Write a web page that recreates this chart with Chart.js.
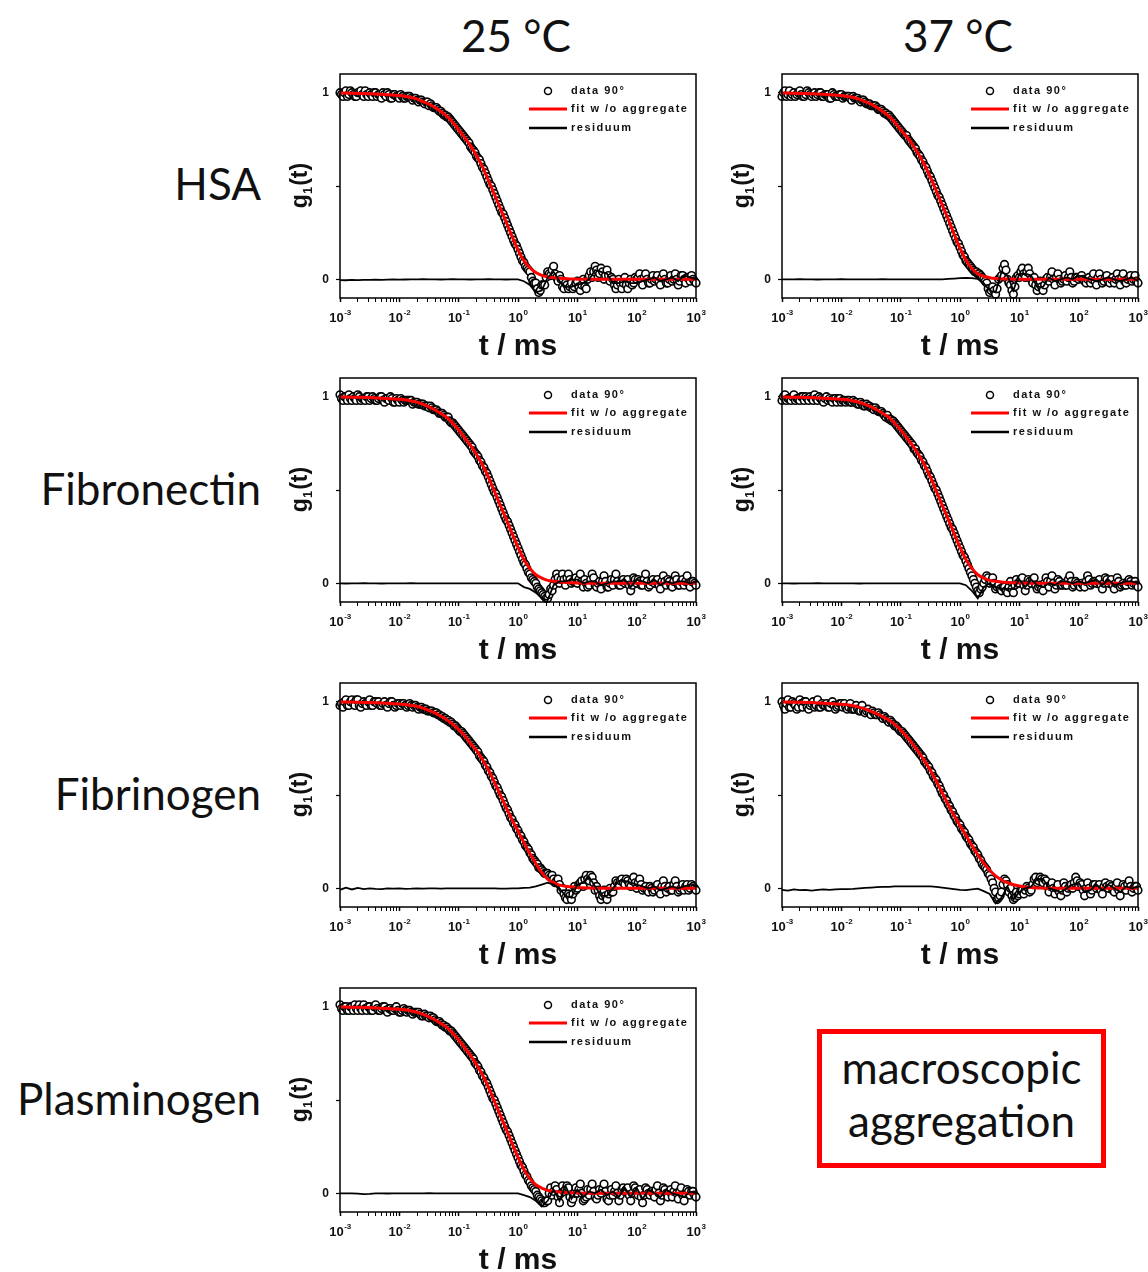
<!DOCTYPE html>
<html>
<head>
<meta charset="utf-8">
<title>g1(t) correlation functions</title>
<script src="https://cdn.jsdelivr.net/npm/chart.js@4/dist/chart.umd.min.js"></script>
<style>
  body { margin: 0; width: 1148px; height: 1272px; position: relative; overflow: hidden; background: #fff; }
  canvas { position: absolute; }
  .head, .row, .note { position: absolute; font-family: Lato, "Open Sans", sans-serif; font-size: 44px; line-height: 44px; color: #111; }
  .head { top: 13px; width: 200px; text-align: center; }
  .row { left: 0; width: 261px; text-align: right; }
  .note { left: 817px; top: 1029px; width: 289px; height: 139px; box-sizing: border-box;
          border: 5px solid #ff0000; text-align: center; line-height: 53px; padding-top: 7px; }
</style>
</head>
<body>

<div class="head" style="left:416px">25 °C</div>
<div class="head" style="left:858px">37 °C</div>

<div class="row" style="top:161px">HSA</div>
<div class="row" style="top:466px">Fibronectin</div>
<div class="row" style="top:771px">Fibrinogen</div>
<div class="row" style="top:1076px">Plasminogen</div>

<canvas id="hsa25" width="436" height="303" style="left:270px;top:64px"></canvas>
<canvas id="hsa37" width="436" height="303" style="left:712px;top:64px"></canvas>
<canvas id="fn25" width="436" height="303" style="left:270px;top:368px"></canvas>
<canvas id="fn37" width="436" height="303" style="left:712px;top:368px"></canvas>
<canvas id="fbg25" width="436" height="303" style="left:270px;top:673px"></canvas>
<canvas id="fbg37" width="436" height="303" style="left:712px;top:673px"></canvas>
<canvas id="plg25" width="436" height="303" style="left:270px;top:978px"></canvas>

<div class="note">macroscopic<br>aggregation</div>

<script>
// lag times of the correlator channels (ms)
const lagTimes = [
  0.001, 0.001122, 0.001259, 0.001413, 0.001585, 0.001778, 0.001995, 0.002239, 0.002512, 0.002818,
  0.003162, 0.003548, 0.003981, 0.004467, 0.005012, 0.005623, 0.00631, 0.007079, 0.007943, 0.008913,
  0.01, 0.01122, 0.01259, 0.01413, 0.01585, 0.01778, 0.01995, 0.02239, 0.02512, 0.02818,
  0.03162, 0.03548, 0.03981, 0.04467, 0.05012, 0.05623, 0.0631, 0.07079, 0.07943, 0.08913,
  0.1, 0.1122, 0.1259, 0.1413, 0.1585, 0.1778, 0.1995, 0.2239, 0.2512, 0.2818,
  0.3162, 0.3548, 0.3981, 0.4467, 0.5012, 0.5623, 0.631, 0.7079, 0.7943, 0.8913,
  1, 1.122, 1.259, 1.413, 1.585, 1.778, 1.995, 2.239, 2.512, 2.818,
  3.162, 3.548, 3.981, 4.467, 5.012, 5.623, 6.31, 7.079, 7.943, 8.913,
  10, 11.22, 12.59, 14.13, 15.85, 17.78, 19.95, 22.39, 25.12, 28.18,
  31.62, 35.48, 39.81, 44.67, 50.12, 56.23, 63.1, 70.79, 79.43, 89.13,
  100, 112.2, 125.9, 141.3, 158.5, 177.8, 199.5, 223.9, 251.2, 281.8,
  316.2, 354.8, 398.1, 446.7, 501.2, 562.3, 631, 707.9, 794.3, 891.3,
  1000
];

// second set of channels, placed between the ones above (ms)
const midTimes = [
  0.001059, 0.001189, 0.001334, 0.001496, 0.001679, 0.001884, 0.002113, 0.002371, 0.002661, 0.002985,
  0.00335, 0.003758, 0.004217, 0.004732, 0.005309, 0.005957, 0.006683, 0.007499, 0.008414, 0.009441,
  0.01059, 0.01189, 0.01334, 0.01496, 0.01679, 0.01884, 0.02113, 0.02371, 0.02661, 0.02985,
  0.0335, 0.03758, 0.04217, 0.04732, 0.05309, 0.05957, 0.06683, 0.07499, 0.08414, 0.09441,
  0.1059, 0.1189, 0.1334, 0.1496, 0.1679, 0.1884, 0.2113, 0.2371, 0.2661, 0.2985,
  0.335, 0.3758, 0.4217, 0.4732, 0.5309, 0.5957, 0.6683, 0.7499, 0.8414, 0.9441,
  1.059, 1.189, 1.334, 1.496, 1.679, 1.884, 2.113, 2.371, 2.661, 2.985,
  3.35, 3.758, 4.217, 4.732, 5.309, 5.957, 6.683, 7.499, 8.414, 9.441,
  10.59, 11.89, 13.34, 14.96, 16.79, 18.84, 21.13, 23.71, 26.61, 29.85,
  33.5, 37.58, 42.17, 47.32, 53.09, 59.57, 66.83, 74.99, 84.14, 94.41,
  105.9, 118.9, 133.4, 149.6, 167.9, 188.4, 211.3, 237.1, 266.1, 298.5,
  335, 375.8, 421.7, 473.2, 530.9, 595.7, 668.3, 749.9, 841.4, 944.1
];

// times at which fit and residual are given (ms)
const fitTimes = [
  0.001, 0.001259, 0.001585, 0.001995, 0.002512, 0.003162, 0.003981, 0.005012, 0.00631, 0.007943,
  0.01, 0.01259, 0.01585, 0.01995, 0.02512, 0.03162, 0.03981, 0.05012, 0.0631, 0.07943,
  0.1, 0.1259, 0.1585, 0.1995, 0.2512, 0.3162, 0.3981, 0.5012, 0.631, 0.7943,
  1, 1.259, 1.585, 1.995, 2.512, 3.162, 3.981, 5.012, 6.31, 7.943,
  10, 12.59, 15.85, 19.95, 25.12, 31.62, 39.81, 50.12, 63.1, 79.43,
  100, 125.9, 158.5, 199.5, 251.2, 316.2, 398.1, 501.2, 631, 794.3,
  1000
];

const decades = [-3, -2, -1, 0, 1, 2, 3];
const yTicks = [0, 0.5, 1];
const seriesLabels = ['data 90°', 'fit w /o aggregate', 'residuum'];

// ---- HSA 25 °C
const hsa25Data = [
  1.00, 0.98, 1.01, 0.99, 1.00, 0.98, 1.00, 1.01, 0.98, 0.99, 1.00, 0.98, 1.00, 0.99, 0.97, 0.99, 1.00, 0.97, 0.99, 0.98, 0.97,
  0.98, 0.97, 0.98, 0.97, 0.97, 0.96, 0.96, 0.95, 0.95, 0.93, 0.93, 0.92, 0.91, 0.90, 0.88, 0.87, 0.86, 0.84, 0.82, 0.80,
  0.78, 0.76, 0.74, 0.71, 0.69, 0.66, 0.64, 0.60, 0.57, 0.53, 0.50, 0.46, 0.42, 0.38, 0.35, 0.31, 0.27, 0.23, 0.19, 0.16,
  0.12, 0.09, 0.06, 0.04, -0.01, -0.02, -0.07, -0.03, -0.03, 0.04, 0.02, 0.07, 0.01, 0.02, -0.04, -0.02, -0.05, -0.02, -0.04, -0.01,
  -0.06, 0.00, -0.05, 0.02, 0.01, 0.07, 0.01, 0.06, 0.00, 0.05, -0.01, 0.00, -0.05, 0.00, -0.05, 0.01, -0.05, 0.00, -0.02, 0.00,
  0.03, -0.03, 0.03, -0.02, 0.00, -0.01, 0.02, -0.03, 0.03, -0.02, 0.00, -0.01, 0.03, -0.03, 0.02, 0.00, 0.01, -0.01, 0.00, -0.02
];
const hsa25Mid = [
  0.99, 1.00, 0.98, 1.01, 0.99, 0.98, 1.00, 0.99, 1.01, 0.98, 0.99, 1.00, 0.98, 0.99, 1.00, 0.98, 0.99, 0.97, 0.99, 0.98,
  0.99, 0.97, 0.98, 0.98, 0.96, 0.97, 0.95, 0.96, 0.94, 0.95,
  0.94, 0.92, 0.92, 0.90, 0.89, 0.88, 0.87, 0.85, 0.83, 0.81,
  0.79, 0.77, 0.75, 0.73, 0.70, 0.68, 0.65, 0.62, 0.59, 0.55,
  0.51, 0.48, 0.44, 0.40, 0.36, 0.33, 0.29, 0.25, 0.21, 0.18,
  0.14, 0.10, 0.07, 0.05, 0.01, -0.02, -0.05, -0.06, -0.03, 0.01, 0.03,
  0.05, 0.03, -0.01, 0.00, -0.05, -0.03, -0.04, -0.05, -0.02, -0.04,
  -0.03, -0.04, 0.00, 0.04, 0.04, 0.05, 0.03, 0.04, 0.02, 0.02,
  0.01, -0.03, -0.03, -0.02, -0.02, -0.03, -0.02, -0.03, 0.01, 0.01,
  0.00, 0.01, 0.00, -0.02, 0.02, 0.00, -0.01, 0.01, 0.00, -0.02,
  0.02, 0.00, 0.00, -0.01, 0.02, -0.02, 0.01, 0.02, -0.01
];
const hsa25Fit = [
  0.998, 0.998, 0.997, 0.996, 0.995, 0.994, 0.993, 0.991, 0.989, 0.987,
  0.985, 0.980, 0.974, 0.965, 0.952, 0.939, 0.920, 0.899, 0.874, 0.841,
  0.801, 0.760, 0.715, 0.663, 0.604, 0.532, 0.457, 0.382, 0.307, 0.230,
  0.158, 0.100, 0.062, 0.036, 0.021, 0.013, 0.009, 0.006, 0.004, 0.002,
  0.001, 0, 0, 0, 0, 0, 0, 0, 0, 0,
  0, 0, 0, 0, 0, 0, 0, 0, 0, 0,
  0
];
const hsa25Res = [
  -0.004, -0.005, -0.003, -0.004, -0.003, -0.003, -0.002, -0.003, -0.002, -0.001,
  -0.002, -0.001, 0, 0, 0.001, 0, 0, -0.001, 0, 0.001,
  0, 0, -0.001, 0, 0, 0.001, 0, 0, -0.001, 0,
  0, -0.01, -0.03, -0.07, -0.06, 0.01, 0.04, -0.01, -0.04, -0.04,
  -0.03, -0.02, 0.00, 0.05, 0.04, 0.03, -0.02, -0.02, -0.01, -0.02,
  -0.02, -0.01, 0.00, 0.01, -0.01, 0.00, 0.01, -0.01, 0.02, 0.01,
  0.00
];

// ---- HSA 37 °C
const hsa37Data = [
  0.98, 1.01, 0.99, 0.98, 1.00, 0.99, 1.01, 0.98, 0.99, 1.00, 0.98, 1.00, 0.99, 1.00, 0.98, 0.99, 0.97, 1.00, 0.98, 0.98, 0.99,
  0.98, 0.98, 0.97, 0.98, 0.97, 0.96, 0.96, 0.95, 0.94, 0.93, 0.93, 0.92, 0.91, 0.90, 0.89, 0.88, 0.86, 0.84, 0.82, 0.80,
  0.78, 0.77, 0.74, 0.72, 0.70, 0.67, 0.64, 0.61, 0.58, 0.55, 0.51, 0.47, 0.44, 0.40, 0.36, 0.32, 0.28, 0.24, 0.20, 0.17,
  0.13, 0.10, 0.08, 0.06, 0.04, 0.03, 0.02, 0.00, -0.02, -0.07, -0.04, -0.08, 0.00, 0.02, 0.08, 0.00, -0.03, -0.08, 0.01, 0.01,
  0.06, 0.01, 0.06, 0.00, 0.01, -0.06, -0.01, -0.06, 0.00, -0.01, 0.04, -0.03, 0.03, -0.02, 0.00, -0.01, 0.04, -0.02, 0.01, 0.00,
  0.02, -0.01, 0.00, -0.02, 0.03, -0.03, 0.03, -0.02, 0.01, -0.01, 0.00, -0.02, 0.03, -0.03, 0.03, -0.02, 0.01, -0.01, 0.02, -0.02
];
const hsa37Mid = [
  1.00, 0.98, 1.01, 0.99, 0.98, 1.00, 0.99, 0.98, 1.01, 0.99, 0.99, 0.98, 1.00, 0.98, 0.99, 0.99, 0.97, 0.99, 0.98, 0.99,
  0.97, 0.98, 0.98, 0.96, 0.97, 0.97, 0.95, 0.96, 0.94, 0.94,
  0.93, 0.93, 0.91, 0.91, 0.89, 0.88, 0.87, 0.85, 0.83, 0.81,
  0.79, 0.77, 0.75, 0.73, 0.71, 0.68, 0.66, 0.63, 0.60, 0.56,
  0.53, 0.49, 0.45, 0.42, 0.38, 0.34, 0.30, 0.26, 0.22, 0.19,
  0.15, 0.12, 0.09, 0.07, 0.05, 0.04, 0.03, 0.01, -0.01, -0.05, -0.06,
  -0.06, -0.05, 0.01, 0.06, 0.05, -0.02, -0.06, -0.04, 0.02, 0.04,
  0.03, 0.04, 0.03, -0.02, -0.03, -0.04, -0.04, -0.03, 0.01, 0.01,
  0.00, 0.01, 0.00, -0.01, 0.02, 0.01, 0.01, -0.01, 0.01, 0.01,
  0.00, -0.02, 0.01, 0.00, -0.01, 0.01, 0.00, -0.01, 0.02, -0.02,
  0.01, 0.00, 0.00, 0.01, -0.01, 0.00, 0.02, 0.00, -0.01
];
const hsa37Fit = [
  0.998, 0.998, 0.997, 0.996, 0.995, 0.994, 0.993, 0.991, 0.989, 0.987,
  0.985, 0.980, 0.974, 0.965, 0.952, 0.939, 0.920, 0.899, 0.874, 0.841,
  0.801, 0.765, 0.722, 0.672, 0.615, 0.547, 0.474, 0.399, 0.323, 0.243,
  0.167, 0.103, 0.058, 0.030, 0.016, 0.009, 0.005, 0.003, 0.002, 0.001,
  0.001, 0, 0, 0, 0, 0, 0, 0, 0, 0,
  0, 0, 0, 0, 0, 0, 0, 0, 0, 0,
  0
];
const hsa37Res = [
  0, 0, 0, 0.001, 0, 0, -0.001, 0, 0, 0,
  0.001, 0, 0, 0, 0, 0, 0, 0.001, 0, 0,
  0, 0, 0, 0, 0, 0, 0, 0, 0.002, 0.004,
  0.006, 0.008, 0.006, 0.002, -0.02, -0.06, -0.07, 0.04, 0.02, -0.06,
  0.03, 0.03, 0.02, -0.04, -0.04, 0.01, -0.01, 0.00, 0.01, 0.00,
  0.02, 0.01, 0.00, -0.01, 0.00, 0.01, 0.00, -0.01, 0.00, 0.01,
  -0.01
];

// ---- Fibronectin 25 °C
const fn25Data = [
  1.01, 0.98, 1.00, 1.01, 0.98, 0.99, 1.01, 0.98, 0.99, 1.00, 0.98, 1.00, 0.98, 0.99, 1.00, 0.97, 0.99, 1.00, 0.97, 0.99, 0.97,
  0.98, 0.98, 0.98, 0.98, 0.97, 0.97, 0.96, 0.96, 0.95, 0.94, 0.94, 0.93, 0.92, 0.91, 0.90, 0.89, 0.87, 0.86, 0.84, 0.82,
  0.80, 0.78, 0.76, 0.74, 0.71, 0.69, 0.66, 0.63, 0.60, 0.57, 0.53, 0.49, 0.46, 0.42, 0.38, 0.34, 0.31, 0.27, 0.23, 0.19,
  0.15, 0.11, 0.08, 0.05, 0.02, 0.00, -0.03, -0.05, -0.07, -0.08, -0.03, -0.01, 0.05, 0.00, 0.05, -0.01, 0.05, 0.00, 0.01, 0.00,
  0.05, -0.02, 0.00, -0.01, 0.05, -0.01, 0.00, -0.03, 0.04, -0.02, 0.00, -0.01, 0.05, -0.01, 0.01, 0.00, 0.02, -0.04, 0.03, 0.00,
  0.01, -0.01, 0.05, -0.02, 0.01, 0.00, 0.02, -0.03, 0.04, -0.01, 0.01, -0.02, 0.04, -0.01, 0.01, -0.01, 0.04, -0.02, 0.01, -0.01
];
const fn25Mid = [
  0.99, 1.00, 0.98, 0.99, 1.00, 0.98, 1.00, 0.99, 0.98, 1.00, 0.99, 0.99, 0.98, 1.00, 0.98, 0.99, 0.98, 0.99, 0.97, 0.98,
  0.99, 0.97, 0.98, 0.98, 0.96, 0.97, 0.96, 0.96, 0.95, 0.95,
  0.95, 0.93, 0.93, 0.91, 0.91, 0.89, 0.89, 0.86, 0.85, 0.83,
  0.81, 0.79, 0.77, 0.75, 0.73, 0.70, 0.68, 0.65, 0.62, 0.59,
  0.55, 0.51, 0.48, 0.44, 0.40, 0.36, 0.33, 0.29, 0.25, 0.21,
  0.17, 0.13, 0.10, 0.06, 0.03, 0.01, -0.02, -0.04, -0.06, -0.08, -0.06,
  -0.04, 0.02, 0.03, 0.02, 0.02, 0.03, 0.02, 0.01, 0.03, 0.02,
  0.01, 0.02, -0.02, 0.02, 0.03, -0.02, 0.01, 0.01, 0.01, -0.02,
  0.02, 0.02, 0.01, -0.01, 0.02, 0.01, -0.01, -0.01, 0.02, 0.02,
  -0.01, 0.02, 0.01, -0.01, 0.02, 0.01, -0.01, 0.01, 0.01, 0.02,
  -0.01, 0.01, 0.02, -0.01, 0.02, 0.01, 0.00, 0.01, 0.00
];
const fn25Fit = [
  0.998, 0.998, 0.997, 0.997, 0.996, 0.995, 0.993, 0.992, 0.990, 0.988,
  0.986, 0.983, 0.977, 0.970, 0.959, 0.945, 0.930, 0.910, 0.889, 0.858,
  0.822, 0.780, 0.739, 0.690, 0.635, 0.570, 0.495, 0.419, 0.345, 0.268,
  0.193, 0.127, 0.080, 0.046, 0.028, 0.016, 0.011, 0.007, 0.005, 0.003,
  0.002, 0.001, 0, 0, 0, 0, 0, 0, 0, 0,
  0, 0, 0, 0, 0, 0, 0, 0, 0, 0,
  0
];
const fn25Res = [
  0, -0.001, 0, 0, 0.001, 0, 0, -0.001, 0, 0,
  0, 0, 0.001, 0, 0, 0, 0, 0, 0, 0,
  0, 0, 0, 0, 0, 0, 0, 0, 0, 0,
  0, -0.02, -0.03, -0.05, -0.08, -0.09, -0.01, 0.01, 0.01, 0.02,
  0.02, 0.00, 0.01, 0.01, -0.01, 0.00, 0.01, 0.01, 0.02, -0.02,
  0.02, 0.01, 0.00, 0.02, -0.01, 0.01, 0.00, 0.01, 0.01, 0.00,
  0.01
];

// ---- Fibronectin 37 °C
const fn37Data = [
  0.98, 1.01, 0.99, 0.98, 1.01, 0.99, 0.98, 1.00, 1.00, 0.98, 0.99, 1.01, 0.98, 0.99, 0.97, 1.00, 0.99, 0.97, 0.99, 0.99, 0.97,
  0.98, 0.98, 0.97, 0.98, 0.97, 0.96, 0.96, 0.95, 0.95, 0.94, 0.93, 0.93, 0.92, 0.91, 0.89, 0.88, 0.87, 0.86, 0.84, 0.82,
  0.80, 0.78, 0.76, 0.74, 0.72, 0.69, 0.66, 0.63, 0.60, 0.57, 0.53, 0.50, 0.46, 0.42, 0.38, 0.34, 0.30, 0.27, 0.23, 0.19,
  0.15, 0.12, 0.08, 0.04, 0.00, -0.04, -0.03, 0.00, 0.04, 0.00, 0.03, -0.03, -0.01, -0.04, -0.02, -0.05, 0.01, -0.05, 0.02, 0.00,
  0.03, -0.04, 0.02, 0.00, 0.03, -0.03, -0.01, -0.04, 0.03, -0.02, 0.04, -0.03, 0.02, -0.01, 0.00, -0.01, 0.04, -0.02, 0.01, -0.01,
  0.00, -0.02, 0.04, -0.01, 0.01, 0.00, 0.02, -0.03, 0.03, 0.00, 0.02, -0.03, 0.03, -0.02, 0.00, -0.01, 0.02, -0.01, 0.01, -0.02
];
const fn37Mid = [
  1.00, 0.98, 0.99, 1.00, 0.98, 0.99, 1.00, 0.98, 0.99, 1.00, 0.98, 0.99, 1.00, 0.98, 0.99, 0.98, 0.98, 0.99, 0.97, 0.99,
  0.98, 0.97, 0.98, 0.97, 0.97, 0.96, 0.97, 0.95, 0.96, 0.95,
  0.94, 0.94, 0.92, 0.92, 0.90, 0.90, 0.88, 0.87, 0.85, 0.83,
  0.81, 0.79, 0.77, 0.75, 0.72, 0.70, 0.68, 0.65, 0.62, 0.58,
  0.55, 0.51, 0.48, 0.44, 0.40, 0.36, 0.32, 0.29, 0.25, 0.21,
  0.17, 0.14, 0.10, 0.06, 0.02, -0.02, -0.05, -0.02, 0.02, 0.03, 0.01,
  0.00, -0.02, -0.03, -0.02, -0.04, -0.02, -0.03, -0.01, 0.00, 0.02,
  -0.01, -0.01, 0.01, 0.02, -0.01, -0.02, -0.03, 0.00, 0.01, 0.01,
  0.00, -0.01, 0.01, -0.01, -0.01, 0.02, 0.01, -0.01, 0.00, -0.02,
  -0.01, 0.01, 0.02, 0.00, 0.01, 0.01, -0.01, 0.00, 0.02, 0.01,
  -0.01, 0.00, 0.01, -0.01, -0.01, 0.01, 0.01, 0.00, -0.01
];
const fn37Fit = [
  0.998, 0.998, 0.997, 0.997, 0.996, 0.995, 0.993, 0.992, 0.990, 0.988,
  0.986, 0.983, 0.977, 0.970, 0.959, 0.945, 0.930, 0.910, 0.889, 0.858,
  0.822, 0.780, 0.739, 0.690, 0.635, 0.570, 0.495, 0.419, 0.345, 0.268,
  0.193, 0.127, 0.080, 0.046, 0.028, 0.016, 0.011, 0.007, 0.005, 0.003,
  0.002, 0.001, 0, 0, 0, 0, 0, 0, 0, 0,
  0, 0, 0, 0, 0, 0, 0, 0, 0, 0,
  0
];
const fn37Res = [
  0, 0, -0.001, 0, 0, 0, 0.001, 0, 0, 0,
  0, 0, 0, -0.001, 0, 0, 0, 0, 0, 0,
  0, 0, 0, 0, 0, 0, 0, 0, 0, 0,
  0, -0.01, -0.04, -0.08, -0.02, 0.00, -0.02, -0.03, -0.03, -0.03,
  0.02, -0.02, 0.02, -0.01, -0.02, 0.00, -0.01, 0.01, 0.01, 0.00,
  0.01, 0.00, 0.01, 0.02, -0.01, 0.02, -0.01, 0.00, 0.01, 0.01,
  0.00
];

// ---- Fibrinogen 25 °C
const fbg25Data = [
  0.98, 0.97, 1.01, 0.98, 1.01, 0.98, 1.01, 0.97, 1.00, 0.98, 1.01, 0.98, 1.00, 1.00, 0.98, 1.00, 0.97, 1.00, 0.98, 0.98, 0.99,
  0.99, 0.98, 0.98, 0.98, 0.98, 0.97, 0.97, 0.96, 0.96, 0.95, 0.95, 0.94, 0.93, 0.92, 0.91, 0.90, 0.89, 0.88, 0.87, 0.85,
  0.84, 0.82, 0.80, 0.78, 0.76, 0.74, 0.71, 0.69, 0.66, 0.63, 0.60, 0.57, 0.54, 0.50, 0.47, 0.43, 0.40, 0.37, 0.34, 0.31,
  0.28, 0.25, 0.22, 0.19, 0.16, 0.14, 0.11, 0.10, 0.08, 0.08, 0.06, 0.05, 0.04, 0.02, 0.00, -0.05, -0.03, -0.06, 0.01, 0.00,
  0.03, 0.01, 0.07, 0.04, 0.06, -0.01, -0.01, -0.06, -0.01, -0.06, 0.00, -0.02, 0.04, 0.02, 0.05, 0.02, 0.04, 0.01, 0.06, 0.00,
  0.05, -0.01, 0.01, -0.02, 0.00, -0.01, 0.02, -0.03, 0.04, -0.02, 0.01, -0.01, 0.04, -0.02, 0.00, -0.01, 0.02, 0.00, 0.01, -0.01
];
const fbg25Mid = [
  0.99, 1.00, 0.98, 1.00, 0.99, 1.01, 0.98, 0.99, 0.99, 1.00, 0.98, 1.00, 0.99, 0.98, 0.99, 0.98, 0.99, 1.00, 0.97, 0.99,
  0.98, 0.99, 0.97, 0.99, 0.97, 0.98, 0.96, 0.97, 0.96, 0.95,
  0.95, 0.94, 0.94, 0.93, 0.92, 0.91, 0.90, 0.89, 0.87, 0.86,
  0.84, 0.83, 0.81, 0.79, 0.77, 0.75, 0.73, 0.70, 0.68, 0.65,
  0.62, 0.59, 0.55, 0.52, 0.49, 0.45, 0.42, 0.38, 0.35, 0.32,
  0.29, 0.26, 0.23, 0.21, 0.18, 0.15, 0.13, 0.11, 0.09, 0.08, 0.07,
  0.07, 0.03, 0.05, -0.01, -0.03, -0.06, -0.04, -0.03, -0.01, 0.02,
  0.04, 0.05, 0.05, 0.07, 0.03, 0.01, -0.04, -0.04, -0.04, -0.03,
  -0.02, 0.01, 0.03, 0.04, 0.03, 0.05, 0.02, 0.04, 0.03, 0.03,
  0.02, 0.00, -0.01, 0.01, -0.02, 0.01, -0.01, 0.01, 0.01, 0.00,
  -0.01, 0.02, 0.01, -0.01, 0.02, 0.01, -0.01, 0.02, 0.00
];
const fbg25Fit = [
  0.998, 0.998, 0.998, 0.997, 0.996, 0.995, 0.994, 0.993, 0.991, 0.989,
  0.987, 0.985, 0.980, 0.974, 0.965, 0.952, 0.940, 0.922, 0.903, 0.880,
  0.851, 0.818, 0.776, 0.739, 0.690, 0.635, 0.570, 0.502, 0.434, 0.367,
  0.307, 0.245, 0.186, 0.133, 0.084, 0.049, 0.030, 0.017, 0.011, 0.008,
  0.005, 0.003, 0.002, 0.001, 0, 0, 0, 0, 0, 0,
  0, 0, 0, 0, 0, 0, 0, 0, 0, 0,
  0
];
const fbg25Res = [
  -0.008, 0.004, -0.006, 0.002, -0.004, 0, -0.003, -0.004, 0, -0.002,
  0, -0.003, -0.002, 0, -0.002, 0, 0, -0.002, 0, 0,
  0, 0, 0, 0, 0, 0, 0, -0.002, -0.002, 0,
  0, 0.002, 0.004, 0.01, 0.02, 0.03, 0.02, 0.00, -0.04, -0.05,
  0.02, 0.03, 0.06, 0.01, -0.04, -0.04, 0.00, 0.04, 0.04, 0.03,
  0.02, 0.01, 0.00, 0.01, -0.01, 0.00, 0.01, 0.00, 0.01, 0.02,
  0.01
];

// ---- Fibrinogen 37 °C
const fbg37Data = [
  1.00, 0.96, 1.01, 0.97, 0.99, 0.96, 1.01, 0.97, 1.00, 0.96, 0.99, 0.97, 1.01, 0.97, 0.98, 0.99, 0.97, 1.00, 0.96, 0.98, 0.99,
  0.99, 0.96, 0.99, 0.96, 0.98, 0.95, 0.98, 0.94, 0.96, 0.93, 0.94, 0.93, 0.93, 0.91, 0.91, 0.89, 0.89, 0.87, 0.86, 0.84,
  0.83, 0.81, 0.79, 0.77, 0.75, 0.73, 0.71, 0.68, 0.66, 0.63, 0.60, 0.58, 0.55, 0.51, 0.48, 0.45, 0.42, 0.39, 0.36, 0.34,
  0.31, 0.28, 0.26, 0.23, 0.20, 0.18, 0.15, 0.12, 0.10, 0.07, 0.03, -0.02, -0.05, -0.02, 0.05, 0.02, 0.00, -0.06, -0.02, -0.03,
  -0.01, -0.01, 0.00, -0.01, 0.05, 0.03, 0.06, 0.03, 0.04, -0.02, 0.03, -0.03, 0.02, -0.04, 0.03, -0.02, 0.01, 0.00, 0.06, 0.01,
  0.02, -0.04, 0.03, -0.03, 0.02, 0.00, 0.02, -0.03, 0.03, 0.00, 0.01, -0.02, 0.03, -0.04, 0.02, -0.01, 0.04, -0.02, 0.01, -0.01
];
const fbg37Mid = [
  0.98, 0.99, 0.97, 1.00, 0.98, 0.97, 0.99, 1.00, 0.97, 0.98, 1.00, 0.98, 0.97, 0.99, 0.98, 0.97, 0.99, 0.98, 0.97, 0.99,
  0.97, 0.97, 0.97, 0.96, 0.96, 0.96, 0.95, 0.95, 0.95, 0.94,
  0.95, 0.93, 0.94, 0.92, 0.92, 0.90, 0.90, 0.88, 0.87, 0.85,
  0.84, 0.82, 0.80, 0.78, 0.76, 0.74, 0.72, 0.70, 0.67, 0.65,
  0.62, 0.59, 0.56, 0.53, 0.50, 0.47, 0.44, 0.41, 0.38, 0.35,
  0.32, 0.30, 0.27, 0.24, 0.22, 0.19, 0.16, 0.13, 0.11, 0.08, 0.05,
  0.00, -0.06, -0.04, 0.02, 0.04, -0.02, -0.04, -0.05, -0.04, -0.01,
  -0.03, 0.01, -0.02, 0.02, 0.06, 0.04, 0.05, 0.05, 0.01, 0.01,
  0.00, 0.00, -0.02, -0.01, 0.01, 0.00, 0.02, 0.03, 0.04, 0.03,
  -0.01, 0.00, 0.00, -0.01, 0.02, 0.01, -0.01, 0.01, 0.01, 0.02,
  -0.01, 0.01, -0.01, 0.00, 0.01, 0.02, 0.01, 0.00, 0.01
];
const fbg37Fit = [
  0.998, 0.998, 0.997, 0.997, 0.996, 0.995, 0.993, 0.992, 0.990, 0.988,
  0.986, 0.983, 0.978, 0.971, 0.961, 0.948, 0.934, 0.919, 0.902, 0.878,
  0.849, 0.813, 0.774, 0.731, 0.684, 0.633, 0.575, 0.512, 0.450, 0.391,
  0.337, 0.284, 0.231, 0.180, 0.135, 0.097, 0.067, 0.045, 0.030, 0.019,
  0.012, 0.007, 0.004, 0.002, 0.001, 0, 0, 0, 0, 0,
  0, 0, 0, 0, 0, 0, 0, 0, 0, 0,
  0
];
const fbg37Res = [
  -0.008, -0.012, -0.006, -0.01, -0.008, -0.012, -0.008, -0.006, -0.008, -0.006,
  -0.004, -0.004, -0.003, 0, 0.002, 0.004, 0.006, 0.008, 0.008, 0.01,
  0.01, 0.01, 0.011, 0.011, 0.01, 0.01, 0.008, 0.004, 0, -0.004,
  -0.008, -0.01, -0.006, -0.002, -0.015, -0.03, -0.08, -0.05, 0.01, -0.06,
  -0.02, 0.00, 0.01, 0.05, 0.05, 0.00, -0.01, -0.02, 0.00, 0.02,
  0.03, -0.02, -0.01, 0.02, -0.01, 0.02, 0.00, -0.02, 0.01, 0.00,
  0.01
];

// ---- Plasminogen 25 °C
const plg25Data = [
  1.01, 0.98, 1.00, 0.98, 1.00, 1.01, 0.98, 0.99, 1.01, 0.98, 1.00, 0.98, 1.01, 0.98, 0.99, 1.00, 0.97, 0.99, 0.98, 1.00, 0.97,
  0.98, 0.98, 0.98, 0.97, 0.97, 0.97, 0.96, 0.95, 0.95, 0.94, 0.94, 0.93, 0.92, 0.91, 0.90, 0.89, 0.87, 0.86, 0.84, 0.82,
  0.80, 0.78, 0.76, 0.74, 0.72, 0.69, 0.66, 0.63, 0.60, 0.57, 0.53, 0.50, 0.46, 0.42, 0.38, 0.34, 0.31, 0.27, 0.23, 0.19,
  0.15, 0.12, 0.09, 0.06, 0.03, 0.01, -0.02, -0.04, -0.05, -0.04, 0.03, 0.01, 0.02, -0.05, 0.04, 0.02, 0.03, -0.05, 0.00, 0.00,
  0.05, -0.04, -0.02, -0.01, 0.05, -0.02, -0.01, 0.00, 0.05, -0.03, -0.01, -0.01, 0.04, -0.04, 0.02, 0.01, 0.03, -0.04, 0.04, 0.01,
  0.02, -0.05, 0.03, 0.00, 0.01, -0.02, 0.04, -0.04, 0.03, 0.00, 0.01, -0.02, 0.04, -0.03, 0.03, -0.04, 0.02, -0.01, 0.01, -0.02
];
const plg25Mid = [
  0.99, 1.00, 0.98, 1.00, 0.98, 0.99, 1.01, 0.98, 0.99, 1.00, 0.98, 1.00, 0.99, 0.98, 1.00, 0.98, 0.99, 0.98, 0.99, 0.98,
  0.97, 0.99, 0.97, 0.98, 0.96, 0.97, 0.97, 0.95, 0.96, 0.95,
  0.95, 0.94, 0.92, 0.92, 0.90, 0.89, 0.88, 0.87, 0.85, 0.83,
  0.81, 0.79, 0.77, 0.75, 0.73, 0.70, 0.68, 0.65, 0.62, 0.59,
  0.55, 0.51, 0.48, 0.44, 0.40, 0.36, 0.33, 0.29, 0.25, 0.21,
  0.17, 0.14, 0.10, 0.07, 0.04, 0.02, -0.01, -0.03, -0.05, -0.04, 0.00,
  -0.01, 0.04, -0.02, 0.00, 0.01, 0.04, -0.02, -0.03, 0.03, 0.02,
  0.00, -0.03, 0.02, 0.02, 0.01, -0.03, 0.02, 0.02, 0.01, -0.04,
  0.02, 0.01, 0.00, -0.01, 0.03, 0.02, -0.01, 0.00, 0.03, -0.01,
  -0.02, -0.01, 0.02, -0.01, 0.00, 0.02, 0.00, -0.01, 0.02, -0.02,
  0.02, 0.01, 0.00, 0.01, -0.01, 0.00, 0.01, 0.01, -0.01
];
const plg25Fit = [
  0.998, 0.998, 0.997, 0.997, 0.996, 0.995, 0.993, 0.992, 0.990, 0.988,
  0.986, 0.983, 0.977, 0.970, 0.959, 0.945, 0.930, 0.910, 0.889, 0.858,
  0.822, 0.780, 0.739, 0.690, 0.635, 0.570, 0.495, 0.419, 0.345, 0.268,
  0.193, 0.127, 0.080, 0.046, 0.028, 0.016, 0.011, 0.007, 0.005, 0.003,
  0.002, 0.001, 0, 0, 0, 0, 0, 0, 0, 0,
  0, 0, 0, 0, 0, 0, 0, 0, 0, 0,
  0
];
const plg25Res = [
  0, 0, 0, -0.002, -0.004, -0.003, 0, 0, -0.001, 0,
  0, 0, 0, 0, 0, 0.001, 0, 0, 0, 0,
  0, 0, 0, 0, 0, 0, 0, 0, 0, 0,
  0, -0.01, -0.02, -0.04, -0.07, -0.04, 0.02, -0.04, 0.04, -0.03,
  0.02, -0.02, 0.01, 0.00, 0.02, -0.01, 0.01, -0.02, 0.03, -0.02,
  0.03, -0.03, 0.02, 0.00, -0.02, 0.02, 0.00, -0.01, -0.02, 0.01,
  0.00
];

const FONT = "'Liberation Sans', Arial, sans-serif";
Chart.defaults.font.family = FONT;
Chart.defaults.color = '#111';

const pts = (xs, ys) => xs.map((x, i) => ({ x: x, y: ys[i] }));

// both channel sets merged in time order
const channels = (data, mid) =>
  pts(lagTimes, data).concat(pts(midTimes, mid)).sort((p, q) => p.x - q.x);

// frame, 10^n labels, g1(t) title and the inset legend
const panelDecor = {
  id: 'panelDecor',
  afterDraw(chart) {
    const { ctx, chartArea: a, scales } = chart;
    ctx.save();

    ctx.strokeStyle = '#000';
    ctx.lineWidth = 1.5;
    ctx.strokeRect(a.left, a.top, a.right - a.left, a.bottom - a.top);

    // decade labels with superscript exponent
    ctx.fillStyle = '#111';
    ctx.textAlign = 'left';
    ctx.textBaseline = 'alphabetic';
    decades.forEach(d => {
      const x = scales.x.getPixelForValue(Math.pow(10, d));
      const exp = String(d);
      ctx.font = 'bold 13px ' + FONT;
      const w1 = ctx.measureText('10').width;
      ctx.font = 'bold 8px ' + FONT;
      const w2 = ctx.measureText(exp).width;
      const x0 = x - (w1 + w2) / 2;
      ctx.font = 'bold 13px ' + FONT;
      ctx.fillText('10', x0, a.bottom + 24);
      ctx.font = 'bold 8px ' + FONT;
      ctx.fillText(exp, x0 + w1 + 0.5, a.bottom + 17);
    });

    // rotated y title g1(t)
    ctx.save();
    ctx.translate(a.left - 33, (a.top + a.bottom) / 2);
    ctx.rotate(-Math.PI / 2);
    const big = 'bold 23px ' + FONT, small = 'bold 13px ' + FONT;
    ctx.font = big;
    const wg = ctx.measureText('g').width, wt = ctx.measureText('(t)').width;
    ctx.font = small;
    const ws = ctx.measureText('1').width;
    let tx = -(wg + ws + wt) / 2;
    ctx.font = big; ctx.fillText('g', tx, 0); tx += wg;
    ctx.font = small; ctx.fillText('1', tx, 5); tx += ws + 1;
    ctx.font = big; ctx.fillText('(t)', tx, 0);
    ctx.restore();

    // legend inside the plot
    const ds = chart.data.datasets;
    const rowY = [a.top + 17, a.top + 35, a.top + 54];
    const lx = a.left + 189;
    ctx.beginPath();
    ctx.arc(a.left + 208, rowY[0], 3.5, 0, Math.PI * 2);
    ctx.fillStyle = '#fff';
    ctx.fill();
    ctx.lineWidth = 1.5;
    ctx.strokeStyle = '#000';
    ctx.stroke();
    ctx.lineWidth = 3;
    ctx.strokeStyle = ds[1].borderColor;
    ctx.beginPath(); ctx.moveTo(lx, rowY[1]); ctx.lineTo(lx + 38, rowY[1]); ctx.stroke();
    ctx.lineWidth = 2.5;
    ctx.strokeStyle = ds[2].borderColor;
    ctx.beginPath(); ctx.moveTo(lx, rowY[2]); ctx.lineTo(lx + 38, rowY[2]); ctx.stroke();

    ctx.fillStyle = '#111';
    ctx.font = 'bold 11px ' + FONT;
    ctx.letterSpacing = '1.5px';
    ctx.textBaseline = 'middle';
    ds.forEach((d, i) => ctx.fillText(d.label, a.left + 231, rowY[i]));
    ctx.restore();
  }
};

function makeChart(id, data, mid, fit, res) {
  return new Chart(document.getElementById(id), {
    type: 'scatter',
    data: {
      datasets: [
        {
          label: seriesLabels[0],
          data: channels(data, mid),
          showLine: false,
          pointStyle: 'circle',
          pointRadius: 3.8,
          pointBorderWidth: 1.6,
          pointBorderColor: '#000',
          pointBackgroundColor: '#fff',
          clip: false,
          order: 3
        },
        {
          label: seriesLabels[1],
          data: pts(fitTimes, fit),
          showLine: true,
          borderColor: '#ff0000',
          borderWidth: 3,
          pointRadius: 0,
          cubicInterpolationMode: 'monotone',
          order: 2
        },
        {
          label: seriesLabels[2],
          data: pts(fitTimes, res),
          showLine: true,
          borderColor: '#000',
          borderWidth: 1.8,
          pointRadius: 0,
          order: 1
        }
      ]
    },
    options: {
      responsive: false,
      animation: false,
      devicePixelRatio: 1,
      events: [],
      layout: { padding: { left: 0, top: 10, right: 10, bottom: 0 } },
      plugins: { legend: { display: false }, tooltip: { enabled: false } },
      scales: {
        x: {
          type: 'logarithmic',
          min: 0.001,
          max: 1000,
          afterBuildTicks: s => {
            const t = [];
            decades.forEach(d => {
              for (let m = 1; m < 10; m++) {
                const v = m * Math.pow(10, d);
                if (v <= 1000) t.push({ value: v, major: m === 1 });
              }
            });
            s.ticks = t;
          },
          afterFit: s => { s.height = 69; s.paddingLeft = 0; s.paddingRight = 0; },
          ticks: { display: false },
          grid: { drawOnChartArea: false, tickLength: 4, color: '#000',
                  tickWidth: c => (c.tick && c.tick.major ? 1.5 : 1) },
          border: { display: false },
          title: { display: true, text: 't / ms', color: '#111',
                   font: { size: 30, weight: 'bold' }, padding: { top: 0, bottom: 2 } }
        },
        y: {
          min: -0.1,
          max: 1.1,
          afterBuildTicks: s => { s.ticks = yTicks.map(v => ({ value: v })); },
          afterFit: s => { s.width = 70; s.paddingTop = 0; s.paddingBottom = 0; },
          ticks: { callback: v => (v === 0.5 ? '' : v), color: '#111',
                   font: { size: 12, weight: 'bold' }, padding: 7 },
          grid: { drawOnChartArea: false, tickLength: 4, color: '#000', tickWidth: 1.2 },
          border: { display: false }
        }
      }
    },
    plugins: [panelDecor]
  });
}

makeChart('hsa25', hsa25Data, hsa25Mid, hsa25Fit, hsa25Res);
makeChart('hsa37', hsa37Data, hsa37Mid, hsa37Fit, hsa37Res);
makeChart('fn25', fn25Data, fn25Mid, fn25Fit, fn25Res);
makeChart('fn37', fn37Data, fn37Mid, fn37Fit, fn37Res);
makeChart('fbg25', fbg25Data, fbg25Mid, fbg25Fit, fbg25Res);
makeChart('fbg37', fbg37Data, fbg37Mid, fbg37Fit, fbg37Res);
makeChart('plg25', plg25Data, plg25Mid, plg25Fit, plg25Res);
</script>
</body>
</html>
